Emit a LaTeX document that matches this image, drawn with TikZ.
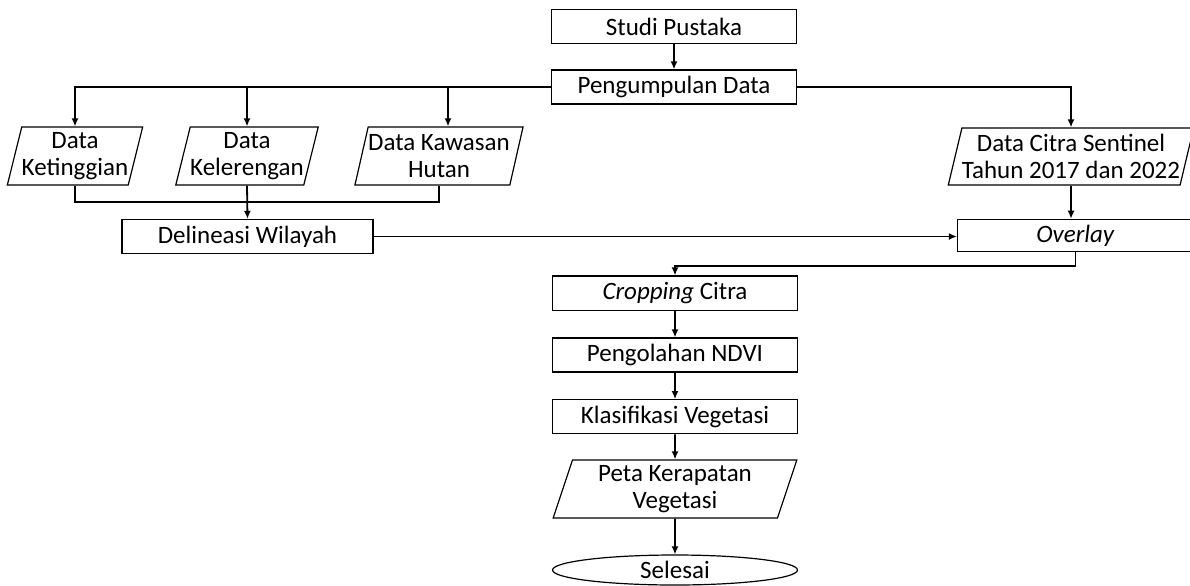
\documentclass[tikz,border=0pt]{standalone}
\usepackage{fontspec}
\setmainfont{Carlito}
\usetikzlibrary{shapes.geometric,arrows.meta,calc}

\begin{document}
\begin{tikzpicture}[x=0.5pt,y=-0.5pt,
  font=\fontsize{12.5}{13.5}\selectfont,
  proses/.style={draw, line width=0.6pt, minimum width=122.5pt,
    minimum height=17pt, inner sep=0pt, align=center},
  dataio/.style={trapezium, trapezium left angle=73, trapezium right angle=107,
    trapezium stretches=true, draw, line width=0.6pt, minimum height=29pt,
    inner sep=0pt, align=center},
  akhir/.style={ellipse, draw, line width=0.6pt, minimum width=122.5pt,
    minimum height=15pt, inner sep=0pt},
  panah/.style={line width=0.9pt, -{Latex[length=4pt,width=3.5pt]}},
  garis/.style={line width=0.9pt}]
  \useasboundingbox (0,0) rectangle (1190,585);
  % alur utama
  \node[proses] (studi) at (674,26.5) {Studi Pustaka};
  \node[proses] (kumpul) at (674,87) {Pengumpulan Data};
  % data masukan
  \node[dataio, minimum width=68pt] (tinggi) at (75,156) {Data\\Ketinggian};
  \node[dataio, minimum width=68pt] (lereng) at (247,156) {Data\\Kelerengan};
  \node[dataio, minimum width=83pt] (hutan) at (439,156) {Data Kawasan\\Hutan};
  \node[dataio, minimum width=118pt, minimum height=28.5pt] (citra) at (1071,156.5)
    {Data Citra Sentinel\\Tahun 2017 dan 2022};
  \node[proses, minimum width=125.5pt] (delin) at (247.5,236.5) {Delineasi Wilayah};
  \node[proses, minimum width=118pt, minimum height=16.2pt] (overlay) at (1075.5,235.5)
    {\textit{Overlay}};
  % pengolahan
  \node[proses, minimum height=17.3pt] (crop) at (675,293.3) {\textit{Cropping} Citra};
  \node[proses, minimum height=17pt] (ndvi) at (675,355) {Pengolahan NDVI};
  \node[proses, minimum height=17pt] (klas) at (675,416.7) {Klasifikasi Vegetasi};
  \node[dataio, minimum width=122.5pt] (peta) at (675,489) {Peta Kerapatan\\Vegetasi};
  \node[akhir] (selesai) at (675,570) {Selesai};
  % panah
  \draw[panah] (studi) -- (kumpul);
  \draw[panah] (kumpul.west) -| (tinggi.north);
  \draw[panah] (kumpul.west -| lereng.north) -- (lereng.north);
  \draw[panah] (kumpul.west -| hutan.north) ++(9,0) -- ($(hutan.north)+(9,0)$);
  \draw[panah] (kumpul.east) -| (citra.north);
  \draw[garis] (tinggi.south) -- ++(0,16.7) -| (hutan.south);
  \draw[panah] (lereng.south) -- (delin.north);
  \draw[panah] (delin.east) -- (delin.east -| overlay.west);
  \draw[panah] (citra.south) -- (citra.south |- overlay.north);
  \draw[panah] (overlay.south) -- ++(0,13.5) -| (crop.north);
  \draw[panah] (crop) -- (ndvi);
  \draw[panah] (ndvi) -- (klas);
  \draw[panah] (klas) -- (peta);
  \draw[panah] (peta) -- (selesai);
\end{tikzpicture}
\end{document}
